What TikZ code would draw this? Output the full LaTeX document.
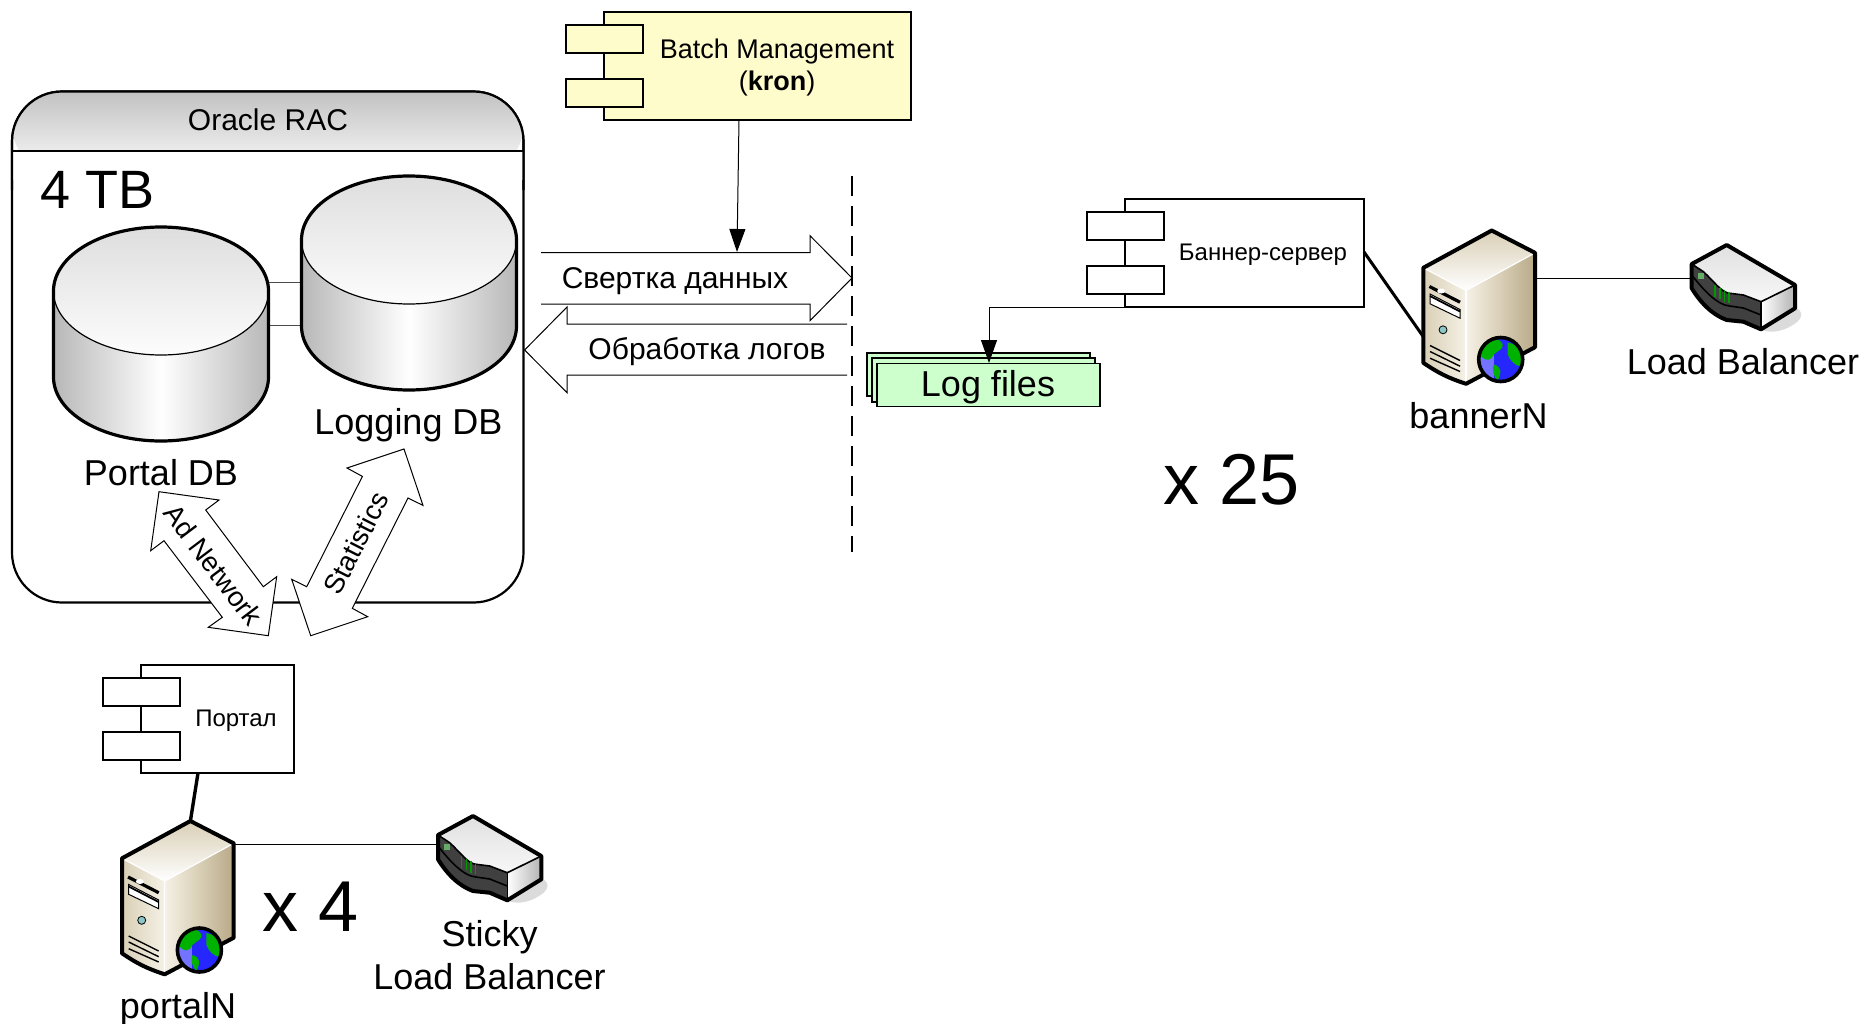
\documentclass[tikz,border=0pt]{standalone}
\usepackage{fontspec}
\setmainfont{Liberation Sans}
\usetikzlibrary{arrows.meta}
\definecolor{casedark}{HTML}{B8A988}
\definecolor{casemid}{HTML}{D9CFB6}
\definecolor{caselight}{HTML}{F5F1E6}
\tikzset{
	bigtext/.style={inner sep=0pt, font=\fontsize{18}{21.6}\selectfont},
	midtext/.style={inner sep=0pt, font=\fontsize{15}{18}\selectfont},
	smalltext/.style={inner sep=0pt, font=\fontsize{12}{14}\selectfont},
	arrowtext/.style={inner sep=0pt, font=\fontsize{13.8}{16.4}\selectfont},
	hugetext/.style={inner sep=0pt, font=\fontsize{36}{42}\selectfont},
	flowtip/.style={-{Triangle[width=8pt,length=11.5pt]}, line width=0.5pt},
	thickedge/.style={line width=1.6pt, line join=round},
	bluntarrow/.style={draw=black, fill=white, line width=0.5pt}
}
% database drum: centre of the top ellipse
\def\dbdrum(#1,#2){
	\begin{scope}[shift={(#1,#2)}]
		\shade[left color=black!28, right color=black!28, middle color=white] (-107.5,0) -- (-107.5,86) arc (180:0:107.5 and 64) -- (107.5,0) -- cycle;
		\shade[top color=black!13, bottom color=black!1] (0,0) ellipse (107.5 and 64);
		\draw[line width=0.6pt] (-107.5,0) arc (180:0:107.5 and 64);
		\draw[thickedge] (-107.5,86) -- (-107.5,0) arc (180:360:107.5 and 64) -- (107.5,86) arc (0:180:107.5 and 64);
	\end{scope}
}
% component box: top left corner of the body, body width
\def\compbox[#1](#2,#3)(#4){
	\draw[fill=#1, line width=0.9pt] (#2,#3) rectangle ++(#4,108);
	\draw[fill=#1, line width=0.9pt] (#2-38,#3+13) rectangle ++(77,28);
	\draw[fill=#1, line width=0.9pt] (#2-38,#3+67) rectangle ++(77,28);
}
% server: top corner of the case
\def\webserver(#1,#2){
	\begin{scope}[shift={(#1,#2)}]
		\shade[left color=casemid, right color=caselight] (-68.4,37.3) -- (-25.7,60) -- (-25.7,153.3) -- (-68.4,132.3) -- cycle;
		\shade[left color=caselight, right color=casedark, middle color=casemid] (-25.7,60) -- (43.3,22.3) -- (43.3,116.7) -- (-25.7,153.3) -- cycle;
		\shade[top color=casemid, bottom color=white] (0,0) -- (43.3,22.3) -- (-25.7,60) -- (-68.4,37.3) -- cycle;
		\draw[white, line width=0.6pt] (-68.4,37.3) -- (-25.7,60) -- (43.3,22.3);
		\draw[white, line width=0.6pt] (-25.7,60) -- (-25.7,153.3);
		\draw[line width=2pt, line join=round] (0,0) -- (43.3,22.3) -- (43.3,116.7) -- (-25.7,153.3) to[bend left=8] (-68.4,132.3) -- (-68.4,37.3) -- cycle;
		\draw[line width=1.6pt] (-62.3,56) -- (-31.7,71.7);
		\draw[fill=white, line width=0.5pt] (-61.7,63.5) -- (-31.7,79) -- (-31.7,87.7) -- (-61.7,73.3) -- cycle;
		\draw[line width=0.9pt] (-61.7,65.5) -- (-31.7,81);
		\fill[white] (-50.5,60.5) ellipse (4 and 2.5);
		\draw[fill=teal!45, line width=0.4pt] (-48.7,99.3) circle (4);
		\draw[line width=0.7pt] (-61.7,115) -- (-31.7,130);
		\draw[line width=0.7pt] (-61.7,121) -- (-31.7,135.7);
		\draw[line width=0.7pt] (-61.7,127.7) -- (-31.7,141);
		\fill[blue!85!white] (9,129) circle (22);
		\begin{scope}
			\clip (9,129) circle (22);
			\fill[blue!55!white] (-13,107) rectangle (2,151);
			\fill[green!70!black] (-12,124) .. controls (-8,110) and (4,104) .. (10,112) .. controls (14,118) and (6,120) .. (2,124) .. controls (0,130) and (-6,132) .. (-12,124) -- cycle;
			\fill[green!70!black] (16,112) .. controls (28,114) and (34,126) .. (30,136) .. controls (24,136) and (18,130) .. (16,124) -- cycle;
			\fill[green!70!black] (2,134) .. controls (10,136) and (10,142) .. (6,150) .. controls (2,146) and (0,140) .. (2,134) -- cycle;
		\end{scope}
		\draw[line width=1.8pt] (9,129) circle (22);
	\end{scope}
}
% balancer: top corner of the case
\def\balancerbox(#1,#2){
	\begin{scope}[shift={(#1,#2)}]
		\fill[black!14] (60,60) .. controls (76,62) and (80,72) .. (66,80) .. controls (54,88) and (40,88) .. (34,84) -- cycle;
		\shade[left color=white, right color=black!30] (34.3,56.7) -- (68.3,40) -- (68.3,63.3) -- (34.3,84.3) -- cycle;
		\fill[black!75] (-35,19) -- (-23.3,26.7) .. controls (-13,36) and (-5,48) .. (3.3,48.3) -- (16.7,50) -- (34.3,56.7) -- (34.3,84.3) -- (16.7,76.7) -- (0,75) .. controls (-14,70) and (-26,58) .. (-35,43.3) -- cycle;
		\draw[black, line width=0.8pt] (-35,30) .. controls (-24,44) and (-10,60) .. (3,61) -- (16.7,63) -- (34.3,70);
		\shade[top color=black!12, bottom color=black!3] (0,0) -- (68.3,40) -- (34.3,56.7) -- (16.7,50) -- (3.3,48.3) .. controls (-5,48) and (-13,36) .. (-23.3,26.7) -- (-35,19) -- cycle;
		\draw[line width=2pt, line join=round] (0,0) -- (68.3,40) -- (68.3,63.3) -- (34.3,84.3) -- (16.7,76.7) -- (0,75) .. controls (-14,70) and (-26,58) .. (-35,43.3) -- (-35,19) -- cycle;
		\draw[line width=0.8pt] (-35,19) -- (-23.3,26.7) .. controls (-13,36) and (-5,48) .. (3.3,48.3) -- (16.7,50) -- (34.3,56.7) -- (68.3,40);
		\draw[line width=0.8pt] (34.3,56.7) -- (34.3,84.3);
		\fill[green!45!black!60!white] (-29,28) rectangle (-23,34);
		\draw[green!60!black, line width=0.8pt] (-11.7,40) -- (-11.7,51.7);
		\draw[green!60!black, line width=0.8pt] (-6.7,42.7) -- (-6.7,54.3);
		\draw[green!60!black, line width=0.8pt] (-2.3,45) -- (-2.3,56.7);
		\draw[green!60!black, line width=0.8pt] (2.3,46.7) -- (2.3,58.3);
	\end{scope}
}

\begin{document}
\begin{tikzpicture}[x=0.5pt, y=-0.5pt]
	\useasboundingbox (0,0) rectangle (1866,1023);

	% Oracle RAC
	\draw[fill=white, line width=1.1pt, rounded corners=25pt] (12,91.5) rectangle (523.5,602.5);
	\shade[top color=black!24, bottom color=black!1, rounded corners=25pt] (12,175) -- (12,91.5) -- (523.5,91.5) -- (523.5,175) -- cycle;
	\fill[white] (12,151) rectangle (523.5,180);
	\draw[line width=1.1pt, rounded corners=25pt] (12,190) -- (12,91.5) -- (523.5,91.5) -- (523.5,190);
	\draw[line width=1.1pt] (12,151) -- (523.5,151);
	\node[midtext] (oraclerac) at (268,120) {Oracle RAC};
	\node[inner sep=0pt, font=\fontsize{27}{32}\selectfont] (fourtb) at (97.5,190) {4 TB};

	\coordinate (portallinka) at (269,282);
	\coordinate (logginglinka) at (301,282);
	\coordinate (portallinkb) at (269,325);
	\coordinate (logginglinkb) at (301,325);
	\draw[black!70, line width=0.5pt] (portallinka) -- (logginglinka);
	\draw[black!70, line width=0.5pt] (portallinkb) -- (logginglinkb);
	\dbdrum(409,240)
	\dbdrum(161,291)
	\node[bigtext] (loggingdb) at (408.5,425) {Logging DB};
	\node[bigtext] (portaldb) at (161,473) {Portal DB};

	% double arrows
	\draw[bluntarrow] (159,491.7) -- (219,500) -- (205.7,510) -- (263.3,586.7) -- (276.7,576.7) -- (268.3,635.7) -- (208.3,627.3) -- (222.3,617.3) -- (164,540.7) -- (150.7,550.7) -- cycle;
	\node[arrowtext, rotate=-53] (adnetwork) at (213.5,565) {Ad Network};
	\draw[bluntarrow] (310.7,635.7) -- (291.7,579.3) -- (306.7,586.7) -- (362.4,476.4) -- (347,468) -- (404,449) -- (423,505.4) -- (408,498) -- (352.3,608.3) -- (367.7,616.7) -- cycle;
	\node[arrowtext, rotate=63] (statistics) at (356,543) {Statistics};

	% data flows
	\draw[bluntarrow] (541,252.7) -- (810,252.7) -- (810,235.7) -- (852,278) -- (810,320.7) -- (810,304) -- (541,304);
	\node[midtext] (svertka) at (675,281.5) {Свертка данных};
	\draw[bluntarrow] (847,324) -- (567,324) -- (567,307) -- (524.6,350) -- (567,392.7) -- (567,375) -- (847,375);
	\node[midtext] (obrabotka) at (707,352) {Обработка логов};
	\draw[line width=0.8pt, dash pattern=on 10pt off 5pt] (852,176) -- (852,552);

	% Batch Management
	\compbox[yellow!20](604,12)(307)
	\node[inner sep=0pt, font=\fontsize{13.5}{16.4}\selectfont, align=center] (batch) at (777,67.5) {Batch Management\\(\textbf{kron})};
	\coordinate (batchout) at (739,119);
	\coordinate (batchin) at (737,252);
	\draw[flowtip] (batchout) -- (batchin);

	% Log files
	\draw[fill=green!20, line width=0.8pt] (867,352.7) rectangle (1090,396);
	\draw[fill=green!20, line width=0.8pt] (872,358) rectangle (1095,401.7);
	\draw[fill=green!20, line width=0.8pt] (877,363.5) rectangle (1100,406.5);
	\node[bigtext] (logfiles) at (988,387) {Log files};

	% banner side
	\compbox[white](1125,199)(239)
	\node[smalltext] (bannersrv) at (1263,254.5) {Баннер-сервер};
	\coordinate (bannerout) at (1125,307);
	\coordinate (logfilesin) at (989,363);
	\draw[flowtip] (bannerout) -| (logfilesin);
	\webserver(1491.7,230.5)
	\balancerbox(1726.7,245)
	\coordinate (bannerrim) at (1364,252);
	\coordinate (bannercase) at (1423.3,336.7);
	\draw[line width=1.5pt] (bannerrim) -- (bannercase);
	\coordinate (bannerlan) at (1535,278.3);
	\coordinate (balancerlan) at (1691.7,278.3);
	\draw[line width=0.5pt] (bannerlan) -- (balancerlan);
	\node[bigtext] (bannern) at (1478.5,416) {bannerN};
	\node[bigtext] (loadbalancer) at (1743,362) {Load Balancer};
	\node[hugetext] (xtwentyfive) at (1232,480) {x 25};

	% portal side
	\compbox[white](140.7,665)(153)
	\node[smalltext] (portal) at (236,721) {Портал};
	\webserver(190.4,821)
	\balancerbox(473,816)
	\coordinate (portalrim) at (198,773);
	\coordinate (portalcase) at (190.4,821);
	\draw[line width=1.7pt] (portalrim) -- (portalcase);
	\coordinate (portallan) at (233.7,844);
	\coordinate (stickylan) at (438,844);
	\draw[line width=0.5pt] (portallan) -- (stickylan);
	\node[hugetext] (xfour) at (311,907) {x 4};
	\node[bigtext, align=center] (sticky) at (489.5,955) {Sticky\\Load Balancer};
	\node[bigtext] (portaln) at (178,1009) {portalN};
\end{tikzpicture}
\end{document}
